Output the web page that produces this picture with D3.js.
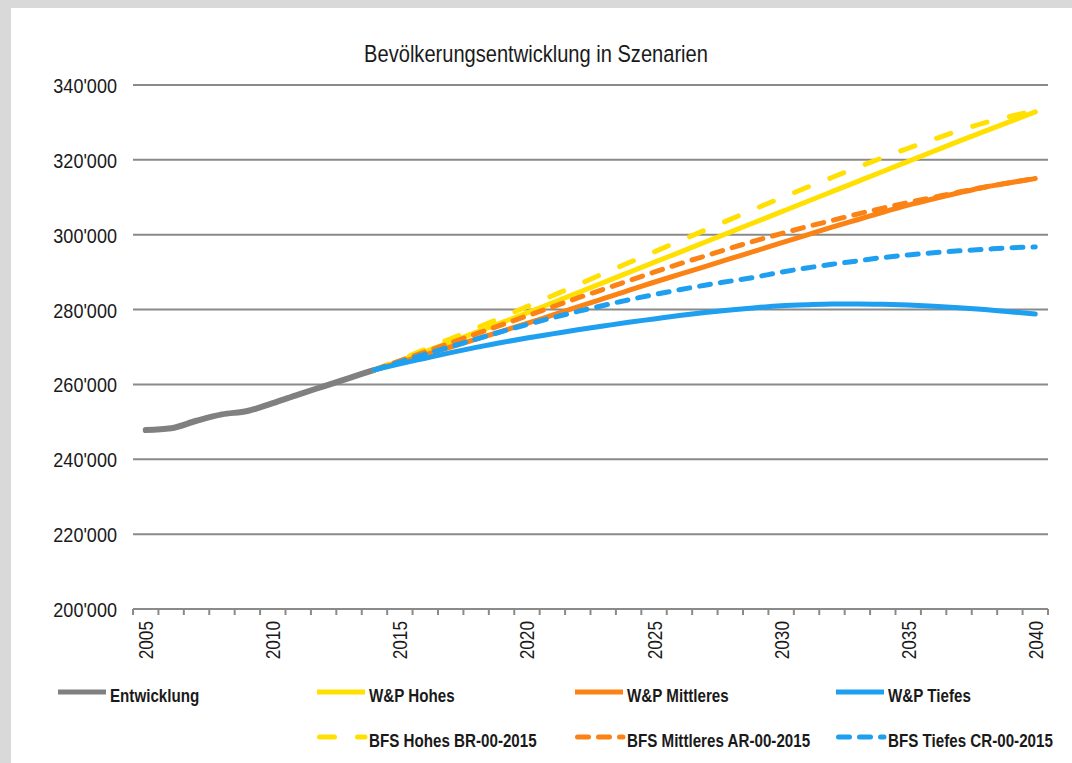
<!DOCTYPE html>
<html><head><meta charset="utf-8">
<script src="https://cdn.jsdelivr.net/npm/d3@7"></script>
<style>
html,body{margin:0;padding:0;background:#ffffff;overflow:hidden;}
svg{display:block;}
text{font-family:'Liberation Sans',Arial,sans-serif;fill:#1a1a1a;}
</style></head><body>
<svg id="chart" width="1072" height="763"></svg>
<script>
// ---- data ----
const histYears = [2005,2006,2007,2008,2009,2010,2011,2012,2013,2014];
const entwicklung = [247800,248300,250300,252000,252900,255000,257300,259500,261700,263900];

const projYears = [2014,2015,2016,2017,2018,2019,2020,2021,2022,2023,2024,2025,2026,2027,2028,2029,2030,2031,2032,2033,2034,2035,2036,2037,2038,2039,2040];
const wpHohes = [263900,266300,268800,271300,273900,276500,279100,281800,284500,287200,289900,292600,295300,298000,300700,303400,306100,308800,311500,314200,316900,319600,322300,325000,327600,330200,332800];
const wpMittleres = [263900,265900,267900,270000,272100,274200,276300,278500,280700,282900,285100,287300,289400,291500,293600,295700,297800,299900,302000,304000,306000,307900,309600,311200,312700,313900,315000];
const wpTiefes = [263900,265500,267000,268500,269900,271200,272400,273500,274600,275600,276600,277500,278400,279200,279900,280500,281000,281300,281500,281500,281400,281200,280900,280500,280000,279400,278800];
const bfsHohes = [263900,266600,269400,272200,275000,277900,280800,283700,286600,289600,292500,295400,298300,301200,304100,307000,309800,312600,315300,318000,320600,323100,325500,327800,329900,331600,333200];
const bfsMittleres = [263900,266300,268700,271100,273500,275900,278300,280700,283100,285400,287700,290000,292200,294300,296400,298400,300300,302100,303800,305500,307100,308600,310000,311400,312700,313900,315000];
const bfsTiefes = [263900,266000,268100,270100,272100,274100,276000,277800,279500,281100,282600,284000,285300,286500,287600,288700,290000,291100,292100,293000,293900,294600,295200,295700,296100,296500,296700];

const allYears = d3.range(2005, 2041);
const xLabelYears = [2005,2010,2015,2020,2025,2030,2035,2040];
const yTicks = [200000,220000,240000,260000,280000,300000,320000,340000];
const title = "Bevölkerungsentwicklung in Szenarien";

const series = [
  {name:"Entwicklung", years:histYears, values:entwicklung, color:"#808080", dash:null, width:6},
  {name:"W&P Hohes", years:projYears, values:wpHohes, color:"#ffe000", dash:null, width:5},
  {name:"BFS Hohes BR-00-2015", years:projYears, values:bfsHohes, color:"#ffe000", dash:"15,23", width:5},
  {name:"W&P Mittleres", years:projYears, values:wpMittleres, color:"#fb8214", dash:null, width:5},
  {name:"BFS Mittleres AR-00-2015", years:projYears, values:bfsMittleres, color:"#fb8214", dash:"11,10", width:5},
  {name:"BFS Tiefes CR-00-2015", years:projYears, values:bfsTiefes, color:"#1e9ff0", dash:"11,10", width:5},
  {name:"W&P Tiefes", years:projYears, values:wpTiefes, color:"#1e9ff0", dash:null, width:5}
];

// ---- layout ----
const svg = d3.select("#chart");
svg.append("rect").attr("x",0).attr("y",0).attr("width",1072).attr("height",763).attr("fill","#d9d9d9");
svg.append("rect").attr("x",11).attr("y",8).attr("width",1061).attr("height",755).attr("fill","#ffffff");

const x = d3.scaleBand().domain(allYears).range([133,1048]).paddingInner(0).paddingOuter(0);
const y = d3.scaleLinear().domain([200000,340000]).range([609,85]);
const loc = d3.formatLocale({decimal:".", thousands:"'", grouping:[3], currency:["",""]});
const fmt = loc.format(",");
const NARROW = 0.82;

// title
svg.append("text").attr("transform",`translate(536,62) scale(${NARROW},1)`).attr("text-anchor","middle")
  .style("font-size","24.5px").text(title);

// gridlines
svg.append("g").selectAll("line").data(yTicks).join("line")
  .attr("x1",133).attr("x2",1048)
  .attr("y1",d=>y(d)).attr("y2",d=>y(d))
  .attr("stroke","#8a8a8a").attr("stroke-width",2);

// y labels
svg.append("g").selectAll("text").data(yTicks).join("text")
  .attr("transform",d=>`translate(117,${y(d)+8}) scale(0.86,1)`).attr("text-anchor","end")
  .style("font-size","21px").text(d=>fmt(d));

// x ticks at category boundaries
const tickPos = allYears.map(d=>x(d)).concat([x(2040)+x.bandwidth()]);
svg.append("g").selectAll("line").data(tickPos).join("line")
  .attr("x1",d=>d).attr("x2",d=>d).attr("y1",609).attr("y2",615)
  .attr("stroke","#8a8a8a").attr("stroke-width",2);

// x labels
svg.append("g").selectAll("text").data(xLabelYears).join("text")
  .attr("transform",d=>`translate(${x(d)+x.bandwidth()/2+7.5},621) rotate(-90) scale(${NARROW},1)`)
  .attr("text-anchor","end")
  .style("font-size","21px").text(d=>d);

// lines
const line = d3.line().x(d=>x(d[0])+x.bandwidth()/2).y(d=>y(d[1])).curve(d3.curveMonotoneX);
svg.append("g").selectAll("path").data(series).join("path")
  .attr("d",s=>line(s.years.map((yr,i)=>[yr,s.values[i]])))
  .attr("fill","none").attr("stroke",s=>s.color).attr("stroke-width",s=>s.width)
  .attr("stroke-dasharray",s=>s.dash).attr("stroke-linecap","round")
  .attr("stroke-linejoin","round");

// legend
const legendItems = [
  {s:series[0], x:58, y:692},
  {s:series[1], x:317, y:692},
  {s:series[3], x:575, y:692},
  {s:series[6], x:836, y:692},
  {s:series[2], x:317, y:737},
  {s:series[4], x:575, y:737},
  {s:series[5], x:836, y:737}
];
const lg = svg.append("g").selectAll("g").data(legendItems).join("g")
  .attr("transform",d=>`translate(${d.x},${d.y})`);
lg.append("line").attr("x1",d=>d.s.dash?2.5:0).attr("x2",d=>d.s.dash?48:48).attr("y1",0).attr("y2",0)
  .attr("stroke",d=>d.s.color).attr("stroke-width",5)
  .attr("stroke-dasharray",d=>d.s.dash).attr("stroke-linecap",d=>d.s.dash?"round":"butt");
lg.append("text").attr("transform",`translate(52,10) scale(${NARROW},1)`)
  .style("font-size","18.5px").style("font-weight","bold").text(d=>d.s.name);
</script>
</body></html>
